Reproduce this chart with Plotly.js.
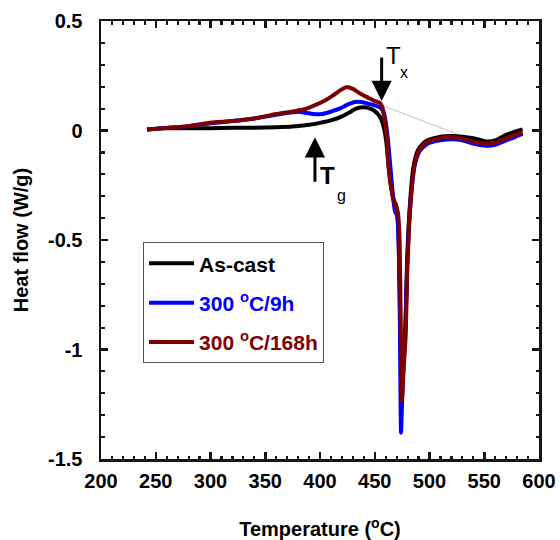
<!DOCTYPE html>
<html>
<head>
<meta charset="utf-8">
<script src="https://cdn.plot.ly/plotly-3.0.1.min.js"></script>
<style>
html,body{margin:0;padding:0;background:#fff;}
#chart{width:560px;height:540px;}
</style>
</head>
<body>
<div id="chart"></div>
<script>
// ---- data ----
const seriesNames = ['As-cast', '300 <sup>o</sup>C/9h', '300 <sup>o</sup>C/168h'];
const seriesColors = ['#000000', '#0000ff', '#7f0000'];

const asCastT = [242, 260, 280, 300, 320, 340, 360, 375, 390, 400, 410, 418, 426, 433, 440, 446, 451, 455, 458, 460.5, 462.6, 465, 467.5, 469.5, 471.5, 473, 474.5, 476, 478, 479.5, 482.5, 485.5, 490, 497, 510, 520, 530, 540, 552, 560, 570, 578, 585];
const asCastV = [0.005, 0.01, 0.01, 0.01, 0.012, 0.013, 0.015, 0.018, 0.026, 0.035, 0.046, 0.06, 0.08, 0.1, 0.106, 0.1, 0.085, 0.06, 0.02, -0.05, -0.16, -0.26, -0.32, -0.34, -0.45, -0.8, -1.25, -1.05, -0.9, -0.6, -0.31, -0.16, -0.085, -0.048, -0.028, -0.025, -0.028, -0.035, -0.05, -0.045, -0.02, -0.005, 0.005];

const h9T = [242, 260, 280, 300, 320, 340, 360, 375, 382, 388, 394, 400, 406, 412, 418, 425, 432, 438, 444, 450, 455, 458, 460, 462, 464, 466.5, 468.5, 470.5, 472, 473, 474, 475.5, 477.5, 479.5, 481, 483.5, 486.5, 491, 498, 510, 520, 530, 540, 552, 560, 570, 578, 585];
const h9V = [0.005, 0.012, 0.02, 0.033, 0.043, 0.055, 0.072, 0.083, 0.085, 0.08, 0.075, 0.074, 0.08, 0.09, 0.1, 0.118, 0.13, 0.13, 0.122, 0.115, 0.105, 0.085, 0.04, -0.04, -0.15, -0.29, -0.37, -0.39, -0.55, -0.9, -1.38, -1.15, -0.95, -0.65, -0.45, -0.28, -0.16, -0.095, -0.06, -0.045, -0.04, -0.045, -0.06, -0.07, -0.065, -0.045, -0.03, -0.015];

const h168T = [242, 260, 280, 300, 320, 340, 360, 375, 385, 395, 405, 412, 418, 424, 430, 437, 444, 450, 455, 457, 459, 461, 462.6, 465, 467.2, 469, 471, 472.5, 473.5, 474.7, 476.5, 478.3, 479.8, 482.9, 485.9, 490.5, 498, 510, 520, 530, 540, 552, 560, 570, 578, 585];
const h168V = [0.005, 0.012, 0.02, 0.035, 0.043, 0.055, 0.075, 0.087, 0.096, 0.115, 0.138, 0.16, 0.182, 0.198, 0.19, 0.168, 0.15, 0.135, 0.125, 0.105, 0.05, -0.03, -0.167, -0.26, -0.32, -0.345, -0.37, -0.47, -0.78, -1.235, -1.08, -0.93, -0.62, -0.32, -0.167, -0.09, -0.052, -0.035, -0.03, -0.038, -0.05, -0.06, -0.055, -0.035, -0.02, -0.008];

// thin construction line from Tx
const baselineT = [455, 528];
const baselineV = [0.118, -0.022];

const xTickVals = [200, 250, 300, 350, 400, 450, 500, 550, 600];
const yTickVals = [-1.5, -1, -0.5, 0, 0.5];
const yTickText = ['-1.5', '-1', '-0.5', '0', '0.5'];

const FONT = 'Liberation Sans, Arial, sans-serif';
const AXC = '#151515';

const allT = [asCastT, h9T, h168T];
const allV = [asCastV, h9V, h168V];

const traces = [{
  x: baselineT, y: baselineV, mode: 'lines', showlegend: false,
  line: {color: '#b0b0b0', width: 0.8}, hoverinfo: 'skip'
}];
for (let i = 0; i < 3; i++) {
  traces.push({
    x: allT[i], y: allV[i], mode: 'lines',
    name: '<span style="color:' + seriesColors[i] + '">' + seriesNames[i] + '</span>',
    legendgroup: 'g' + i,
    line: {color: seriesColors[i], width: 4, shape: 'spline', smoothing: 0.6}
  });
}

const layout = {
  width: 560, height: 540,
  margin: {l: 101, r: 21, t: 21, b: 81},
  paper_bgcolor: '#fff', plot_bgcolor: '#fff',
  font: {family: FONT, color: '#000'},
  xaxis: {
    showline: true, linecolor: AXC, linewidth: 2.5, mirror: 'ticks',
    ticks: 'inside', ticklen: 7, tickwidth: 2.5, tickcolor: AXC,
    showgrid: false, zeroline: false, ticklabelstandoff: 2,
    tickfont: {family: FONT, size: 20, color: '#000', weight: 'bold'},
    range: [200, 600], tickmode: 'array', tickvals: xTickVals,
    minor: {ticks: 'inside', dtick: 10, tick0: 200, ticklen: 3.5, tickwidth: 2.2, tickcolor: AXC},
    title: {text: 'Temperature (<sup>o</sup>C)', standoff: 33,
      font: {family: FONT, size: 20, color: '#000', weight: 'bold'}}
  },
  yaxis: {
    showline: true, linecolor: AXC, linewidth: 2.5, mirror: 'ticks',
    ticks: 'inside', ticklen: 7, tickwidth: 2.5, tickcolor: AXC,
    showgrid: false, zeroline: false, ticklabelstandoff: 12,
    tickfont: {family: FONT, size: 20, color: '#000', weight: 'bold'},
    range: [-1.5, 0.5], tickmode: 'array', tickvals: yTickVals, ticktext: yTickText,
    minor: {ticks: 'inside', dtick: 0.1, tick0: 0, ticklen: 3.5, tickwidth: 2.2, tickcolor: AXC},
    title: {text: 'Heat flow (W/g)', standoff: 14,
      font: {family: FONT, size: 20, color: '#000', weight: 'bold'}}
  },
  legend: {
    x: 0.096, y: 0.495, xanchor: 'left', yanchor: 'top',
    bgcolor: '#fff', bordercolor: '#555', borderwidth: 1,
    font: {family: FONT, size: 21, weight: 'bold', color: '#000'},
    tracegroupgap: 9, itemwidth: 45, traceorder: 'grouped'
  },
  annotations: [
    {x: 456.3, y: 0.135, xref: 'x', yref: 'y', text: '', showarrow: true,
     ax: 0, ay: -45, arrowhead: 2, arrowsize: 1.35, arrowwidth: 3, arrowcolor: '#000'},
    {x: 395.4, y: -0.031, xref: 'x', yref: 'y', text: '', showarrow: true,
     ax: 0, ay: 46, arrowhead: 2, arrowsize: 1.35, arrowwidth: 3, arrowcolor: '#000'},
    {x: 466.7, y: 0.344, xref: 'x', yref: 'y', text: 'T', showarrow: false,
     font: {family: FONT, size: 24, color: '#000'}},
    {x: 476.7, y: 0.267, xref: 'x', yref: 'y', text: 'x', showarrow: false,
     font: {family: FONT, size: 16, color: '#000'}},
    {x: 407.3, y: -0.205, xref: 'x', yref: 'y', text: 'T', showarrow: false,
     font: {family: FONT, size: 24, color: '#000', weight: 'bold'}},
    {x: 419.2, y: -0.296, xref: 'x', yref: 'y', text: 'g', showarrow: false,
     font: {family: FONT, size: 16, color: '#000'}}
  ]
};

Plotly.newPlot('chart', traces, layout, {staticPlot: true, displayModeBar: false});
</script>
</body>
</html>
